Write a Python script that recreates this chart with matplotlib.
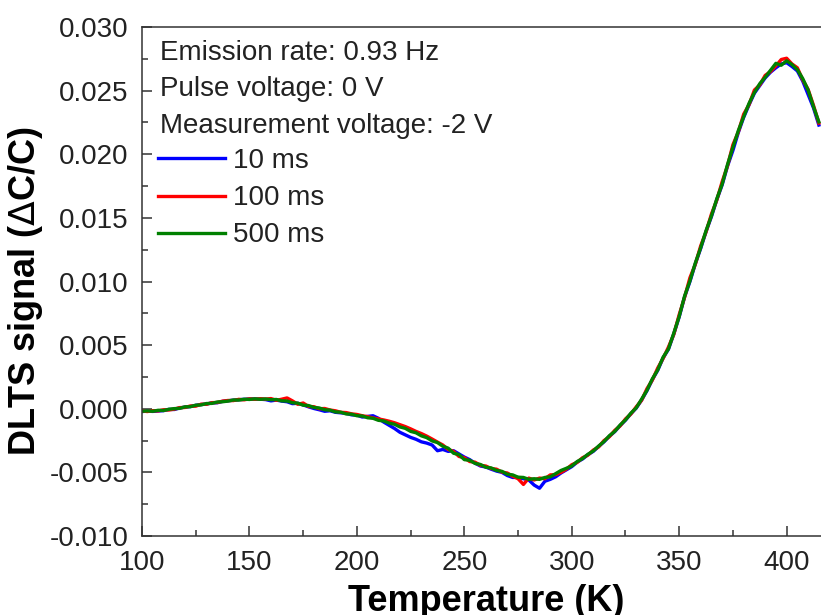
import numpy as np
import matplotlib
matplotlib.use("Agg")
import matplotlib.pyplot as plt
from matplotlib.ticker import MultipleLocator, FormatStrFormatter

plt.rcParams['font.family'] = ['Liberation Sans', 'DejaVu Sans']
plt.rcParams['axes.unicode_minus'] = False

# temperature grid (K), 2.5 K step
temperature = np.arange(100, 415.1, 2.5)

# DLTS signal, in units of 1e-3
sig_10ms = [-0.22, -0.19, -0.21, -0.18, -0.15, -0.05, -0.06, 0.06, 0.13, 0.17,
            0.27, 0.33, 0.37, 0.46, 0.47, 0.58, 0.63, 0.67, 0.71, 0.74,
            0.76, 0.77, 0.75, 0.72, 0.62, 0.68, 0.60, 0.55, 0.40, 0.43,
            0.30, 0.15, 0.02, -0.08, -0.20, -0.16, -0.28, -0.32, -0.36, -0.48,
            -0.50, -0.65, -0.60, -0.55, -0.75, -1.05, -1.30, -1.55, -1.85, -2.05,
            -2.25, -2.40, -2.60, -2.70, -2.85, -3.30, -3.20, -3.35, -3.30, -3.55,
            -3.80, -4.00, -4.28, -4.50, -4.58, -4.75, -4.90, -5.00, -5.25, -5.40,
            -5.40, -5.50, -5.60, -6.00, -6.25, -5.70, -5.55, -5.35, -5.05, -4.80,
            -4.55, -4.20, -3.95, -3.62, -3.35, -2.97, -2.60, -2.17, -1.80, -1.33,
            -0.90, -0.40, 0.05, 0.68, 1.42, 2.28, 3.02, 3.98, 4.68, 5.88,
            7.22, 8.78, 10.00, 11.38, 12.60, 13.92, 15.10, 16.42, 17.60, 19.08,
            20.30, 21.70, 22.90, 23.88, 24.80, 25.40, 26.00, 26.45, 26.80, 27.10,
            27.20, 26.90, 26.55, 25.75, 24.70, 23.65, 22.30]

sig_100ms = [-0.18, -0.22, -0.15, -0.17, -0.08, -0.10, -0.03, 0.09, 0.10, 0.22,
             0.20, 0.36, 0.35, 0.48, 0.49, 0.60, 0.65, 0.64, 0.74, 0.70,
             0.78, 0.74, 0.79, 0.76, 0.80, 0.66, 0.75, 0.85, 0.62, 0.35,
             0.45, 0.18, 0.16, 0.00, 0.02, -0.10, -0.16, -0.28, -0.30, -0.40,
             -0.45, -0.55, -0.62, -0.72, -0.80, -0.88, -0.98, -1.10, -1.25, -1.40,
             -1.58, -1.78, -1.95, -2.15, -2.38, -2.62, -2.85, -3.20, -3.35, -3.75,
             -3.85, -4.15, -4.20, -4.45, -4.50, -4.70, -4.75, -4.98, -5.05, -5.30,
             -5.50, -5.95, -5.45, -5.60, -5.45, -5.50, -5.20, -5.18, -5.00, -4.75,
             -4.40, -4.22, -3.85, -3.65, -3.25, -3.00, -2.50, -2.20, -1.70, -1.35,
             -0.80, -0.42, 0.15, 0.66, 1.58, 2.25, 3.20, 3.95, 4.85, 5.85,
             7.40, 8.75, 10.30, 11.35, 12.80, 13.90, 15.30, 16.40, 17.85, 19.10,
             20.75, 21.75, 23.15, 23.90, 25.05, 25.45, 26.20, 26.50, 26.95, 27.45,
             27.55, 27.10, 26.80, 25.85, 25.10, 23.85, 22.45]

sig_500ms = [-0.20, -0.17, -0.20, -0.12, -0.14, -0.04, 0.01, 0.03, 0.15, 0.16,
             0.28, 0.30, 0.41, 0.42, 0.53, 0.55, 0.60, 0.69, 0.68, 0.75,
             0.73, 0.78, 0.74, 0.77, 0.71, 0.73, 0.62, 0.61, 0.47, 0.44,
             0.28, 0.25, 0.10, 0.06, -0.08, -0.11, -0.25, -0.27, -0.41, -0.43,
             -0.55, -0.57, -0.71, -0.75, -0.91, -0.96, -1.13, -1.22, -1.43, -1.54,
             -1.78, -1.89, -2.13, -2.27, -2.53, -2.66, -2.95, -3.10, -3.50, -3.60,
             -4.00, -4.05, -4.30, -4.38, -4.60, -4.65, -4.85, -4.92, -5.15, -5.20,
             -5.38, -5.40, -5.55, -5.50, -5.55, -5.40, -5.35, -5.10, -4.85, -4.68,
             -4.50, -4.15, -3.92, -3.58, -3.32, -2.93, -2.58, -2.12, -1.78, -1.28,
             -0.88, -0.35, 0.07, 0.75, 1.45, 2.35, 3.05, 4.05, 4.70, 5.95,
             7.25, 8.85, 10.05, 11.45, 12.65, 14.00, 15.15, 16.50, 17.65, 19.20,
             20.55, 21.85, 22.95, 24.00, 24.85, 25.55, 26.05, 26.60, 27.15, 27.00,
             27.35, 27.05, 26.65, 25.95, 25.05, 23.75, 22.55]

labels = ['10 ms', '100 ms', '500 ms']
colors = ['#0000FF', '#FF0000', '#008000']
info_lines = ['Emission rate: 0.93 Hz', 'Pulse voltage: 0 V',
              'Measurement voltage: -2 V']

fig = plt.figure(figsize=(8.21, 6.15), dpi=100)
ax = fig.add_axes([0.173, 0.1285, 0.827, 0.8275])

for sig, lab, c in zip([sig_10ms, sig_100ms, sig_500ms], labels, colors):
    ax.plot(temperature, np.array(sig) * 1e-3, color=c, lw=2.4, label=lab)

ax.set_xlim(100, 416)
ax.set_ylim(-0.010, 0.030)
ax.xaxis.set_major_locator(MultipleLocator(50))
ax.xaxis.set_minor_locator(MultipleLocator(25))
ax.yaxis.set_major_locator(MultipleLocator(0.005))
ax.yaxis.set_minor_locator(MultipleLocator(0.0025))
ax.yaxis.set_major_formatter(FormatStrFormatter('%.3f'))

edge = '#333333'
for s in ['left', 'bottom', 'top']:
    ax.spines[s].set_linewidth(1.1)
    ax.spines[s].set_color(edge)
ax.spines['right'].set_visible(False)
ax.tick_params(which='both', direction='in', color=edge, width=1.1,
               labelsize=20, labelcolor='#222222', pad=10,
               top=False, right=False)
ax.tick_params(which='major', length=7)
ax.tick_params(which='minor', length=4)

ax.set_xlabel('Temperature (K)', fontsize=26, fontweight='bold', va='top')
ax.xaxis.set_label_coords(0.507, -0.094)
ax.set_ylabel('DLTS signal (' + r'$\Delta$' + 'C/C)', fontsize=26,
              fontweight='bold')
ax.yaxis.set_label_coords(-0.143, 0.481)

for i, line in enumerate(info_lines):
    ax.text(0.0265, 0.949 - i * 0.0715, line, transform=ax.transAxes,
            fontsize=20, color='#222222', va='center', ha='left')

ax.legend(loc='upper left', bbox_to_anchor=(0.024, 0.762), frameon=False,
          fontsize=20, handlelength=2.4, handletextpad=0.3,
          borderpad=0, borderaxespad=0, labelspacing=0.4,
          labelcolor='#222222')

fig.savefig('out.png', dpi=100)
